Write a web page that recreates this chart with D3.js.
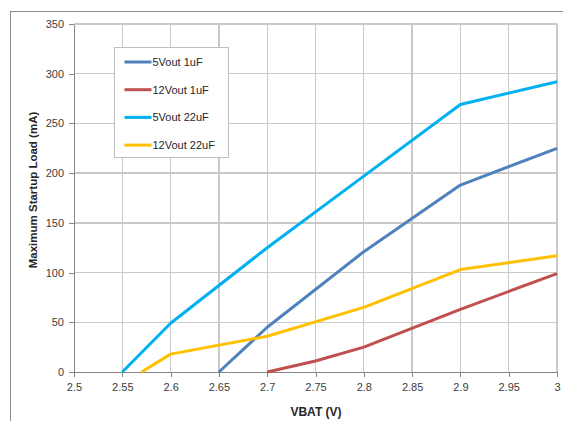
<!DOCTYPE html>
<html>
<head>
  <meta charset="utf-8">
  <style>
    body { margin: 0; background: #fff; }
    svg { display: block; font-family: "Liberation Sans", "DejaVu Sans", sans-serif; }
    .grid line { stroke: #c9c9c9; stroke-width: 1.3px; shape-rendering: crispEdges; }
    .axis path, .axis line { stroke: #868686; shape-rendering: crispEdges; }
    .axis text { fill: #404040; font-size: 11px; }
    .line { fill: none; stroke-width: 3px; stroke-linejoin: round; }
  </style>
</head>
<body>
  <svg width="563" height="421"></svg>
  <script src="https://cdn.jsdelivr.net/npm/d3@7"></script>
  <script>

  // series data
  var names = ["5Vout 1uF", "12Vout 1uF", "5Vout 22uF", "12Vout 22uF"];
  var colors = ["#4f81bd", "#c0504d", "#00b0f0", "#ffc000"];

  var vbat5v1 = [2.65, 2.7, 2.8, 2.9, 3.0];
  var load5v1 = [0, 45, 121, 188, 225];

  var vbat12v1 = [2.7, 2.75, 2.8, 2.9, 3.0];
  var load12v1 = [0, 11, 25, 63, 99];

  var vbat5v22 = [2.55, 2.6, 2.7, 2.8, 2.9, 3.0];
  var load5v22 = [0, 49, 125, 197, 269, 292];

  var vbat12v22 = [2.57, 2.6, 2.7, 2.8, 2.9, 3.0];
  var load12v22 = [0, 18, 36, 65, 103, 117];

  var xTicks = [2.5, 2.55, 2.6, 2.65, 2.7, 2.75, 2.8, 2.85, 2.9, 2.95, 3];
  var yTicks = [0, 50, 100, 150, 200, 250, 300, 350];

  var series = [
    {id: names[0], color: colors[0], xs: vbat5v1, ys: load5v1},
    {id: names[1], color: colors[1], xs: vbat12v1, ys: load12v1},
    {id: names[2], color: colors[2], xs: vbat5v22, ys: load5v22},
    {id: names[3], color: colors[3], xs: vbat12v22, ys: load12v22}
  ];

  var svg = d3.select("svg"),
      margin = {top: 24, right: 6, bottom: 49, left: 74},
      width = 563 - margin.left - margin.right,
      height = 421 - margin.top - margin.bottom;

  // outer chart frame (right/bottom edges fall outside the picture)
  svg.append("rect")
    .attr("x", 10.5).attr("y", 11.5)
    .attr("width", 600).attr("height", 500)
    .attr("fill", "#fff")
    .attr("stroke", "#8c8c8c");

  var g = svg.append("g").attr("transform", "translate(" + margin.left + "," + margin.top + ")");

  var x = d3.scaleLinear().domain([2.5, 3]).range([0, width]),
      y = d3.scaleLinear().domain([0, 350]).range([height, 0]);

  // gridlines
  var grid = g.append("g").attr("class", "grid");
  grid.selectAll(".v").data(xTicks.slice(1)).enter().append("line")
    .attr("x1", function(d) { return x(d); }).attr("x2", function(d) { return x(d); })
    .attr("y1", 0).attr("y2", height);
  grid.selectAll(".h").data(yTicks.slice(1)).enter().append("line")
    .attr("x1", 0).attr("x2", x(3))
    .attr("y1", function(d) { return y(d); }).attr("y2", function(d) { return y(d); });

  g.append("g")
    .attr("class", "axis axis--x")
    .attr("transform", "translate(0," + height + ")")
    .call(d3.axisBottom(x).tickValues(xTicks).tickSize(5).tickSizeOuter(0).tickPadding(6)
      .tickFormat(function(d) { return String(+d.toFixed(2)); }));

  g.append("g")
    .attr("class", "axis axis--y")
    .call(d3.axisLeft(y).tickValues(yTicks).tickSize(5).tickSizeOuter(0).tickPadding(5));

  svg.append("text")
    .attr("x", 316)
    .attr("y", 416)
    .attr("text-anchor", "middle")
    .style("font-size", "12px").style("font-weight", "bold").attr("fill", "#262626")
    .text("VBAT (V)");

  svg.append("text")
    .attr("transform", "translate(37,190) rotate(-90)")
    .attr("text-anchor", "middle")
    .style("font-size", "11.5px").style("font-weight", "bold").attr("fill", "#262626")
    .text("Maximum Startup Load (mA)");

  var line = d3.line()
    .x(function(d) { return x(d[0]); })
    .y(function(d) { return y(d[1]); });

  g.selectAll(".line").data(series).enter().append("path")
    .attr("class", "line")
    .attr("stroke", function(d) { return d.color; })
    .attr("d", function(d) { return line(d3.zip(d.xs, d.ys)); });

  // legend
  var legend = svg.append("g").attr("transform", "translate(114.5,47.5)");
  legend.append("rect")
    .attr("width", 114).attr("height", 110)
    .attr("fill", "#fff").attr("stroke", "#bfbfbf");
  var item = legend.selectAll(".item").data(series).enter().append("g")
    .attr("transform", function(d, i) { return "translate(0," + (14.5 + i * 27.7) + ")"; });
  item.append("line")
    .attr("x1", 10).attr("x2", 37)
    .attr("stroke", function(d) { return d.color; })
    .attr("stroke-width", 3);
  item.append("text")
    .attr("x", 38).attr("dy", "0.35em")
    .style("font-size", "11px").attr("fill", "#262626")
    .text(function(d) { return d.id; });

  </script>
</body>
</html>
